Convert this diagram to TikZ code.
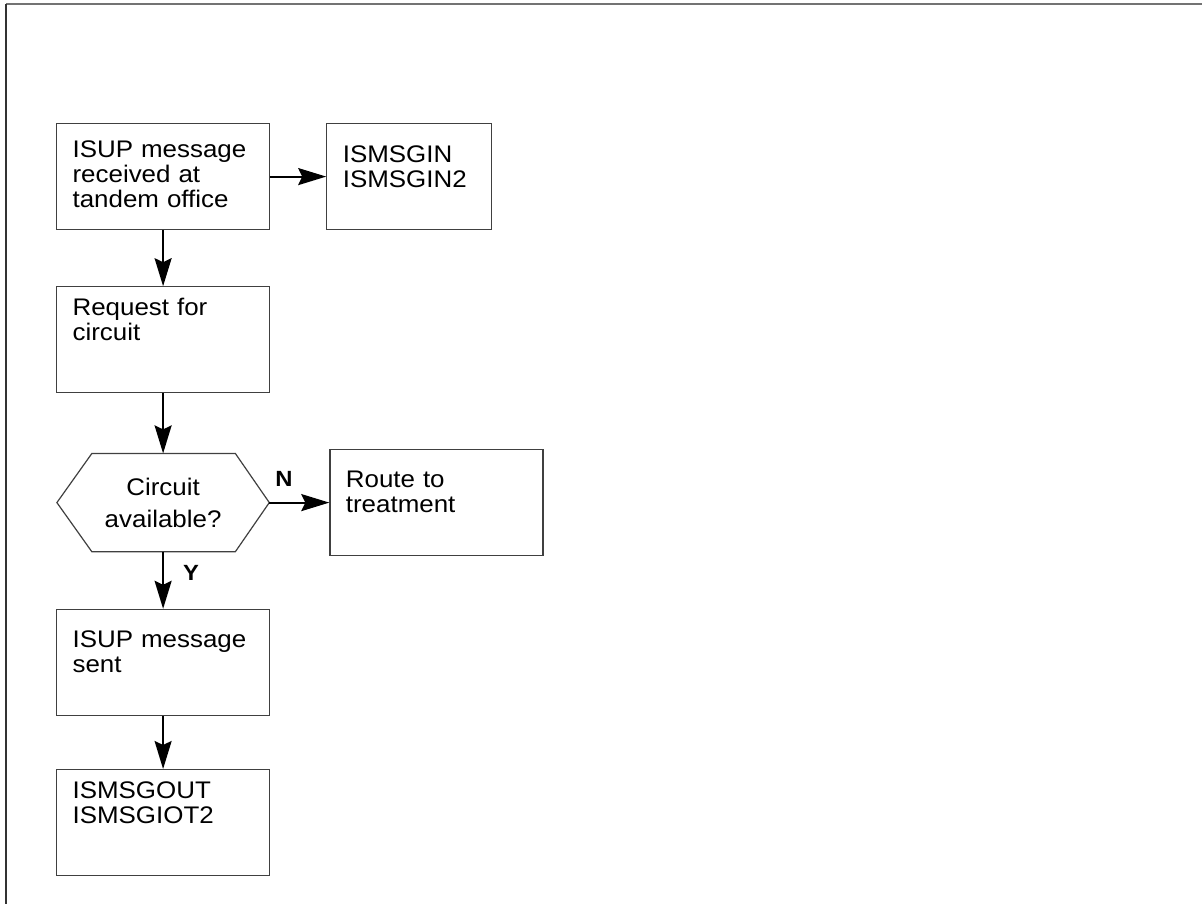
\documentclass[tikz,border=0pt]{standalone}
\usepackage{fontspec}
\setmainfont{Liberation Sans}[FakeStretch=1.08]
\usetikzlibrary{positioning, arrows.meta}

\begin{document}
\begin{tikzpicture}[
        x=1pt, y=1pt,
        box/.style={draw=black!75, line width=1.2pt, minimum width=213pt, text width=181pt,
          inner xsep=16pt, inner ysep=0pt, align=left, text height=#1, text depth=106pt-#1,
          font=\fontsize{24}{25}\selectfont},
        box/.default=36pt,
        decision/.style={minimum width=212pt, minimum height=98pt, inner sep=0pt, align=center,
          font=\fontsize{24}{32}\selectfont},
        flow/.style={-{Stealth[length=28pt, width=17pt, inset=4pt]}, line width=2pt, black},
        lbl/.style={inner sep=0pt, font=\fontsize{22}{24}\selectfont\bfseries}
      ]
        \useasboundingbox (0,0) rectangle (1202,-904);
        % page frame
        \draw[line width=2pt, black!55] (1202,-4) -- (6,-4);
        \draw[line width=2pt, black!80] (6,-4) -- (6,-904);

        % incoming message
        \node[box=34pt, anchor=north west] (rcvd) at (56,-123) {ISUP message\\received at\\tandem office};
        \node[box=39pt, minimum width=165pt, text width=133pt, right=56pt of rcvd] (ingrp) {ISMSGIN\\ISMSGIN2};

        % circuit request
        \node[box=29pt, below=56pt of rcvd] (req) {Request for\\circuit};

        % decision
        \node[decision, below=60pt of req] (avail) {Circuit\\available?};
        \draw[draw=black!75, line width=1.2pt] (avail.west) -- ([xshift=35pt]avail.north west)
          -- ([xshift=-34pt]avail.north east) -- (avail.east)
          -- ([xshift=-34pt]avail.south east) -- ([xshift=35pt]avail.south west) -- cycle;
        \node[box=38pt, right=60pt of avail] (treat) {Route to\\treatment};

        % outgoing message
        \node[box=38pt, below=57pt of avail] (sent) {ISUP message\\sent};
        \node[box=29pt, below=53pt of sent] (outgrp) {ISMSGOUT\\ISMSGIOT2};

        \draw[flow] (rcvd) -- (ingrp);
        \draw[flow] (rcvd) -- (req);
        \draw[flow] (req) -- (avail);
        \draw[flow] (avail) -- node[lbl, pos=0, anchor=south west, xshift=5pt, yshift=15pt] {N} (treat);
        \draw[flow] (avail) -- node[lbl, pos=0, anchor=north west, xshift=19pt, yshift=-13pt] {Y} (sent);
        \draw[flow] (sent) -- (outgrp);
      \end{tikzpicture}
\end{document}
